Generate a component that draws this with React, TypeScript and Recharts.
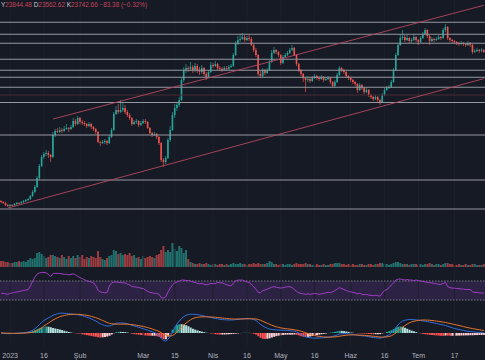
import React from "react";
import { ComposedChart, Bar, Line, XAxis, YAxis, ReferenceLine, ReferenceArea, Cell } from "recharts";

// Daily candles [open, high, low, close], 28 Dec 2022 .. 30 Jul 2023
const ohlc: number[][] = [
  [15950,16000,15850,15900],[15900,15950,15800,15850],[15850,15900,15700,15750],[15750,15800,15650,15700],[15700,15800,15650,15750],
  [15750,15800,15700,15740],[15740,15850,15700,15800],[15800,15900,15750,15850],[15850,15900,15800,15840],[15840,15950,15800,15900],
  [15900,16000,15850,15950],[15950,16050,15900,16000],[16000,16100,15950,16050],[16050,16250,16000,16200],[16200,16500,16150,16400],
  [16400,16750,16350,16650],[16650,17200,16600,17100],[17100,17800,17000,17700],[17700,18250,17650,18150],[18150,18400,18050,18300],
  [18300,18500,18200,18350],[18350,18450,18100,18250],[18250,18300,17900,18150],[18150,19400,18100,19250],[19250,19550,19150,19450],
  [19450,19600,19350,19400],[19400,19650,19350,19500],[19500,19600,19350,19450],[19450,19700,19400,19550],[19550,19800,19500,19600],
  [19600,19650,19400,19550],[19550,19750,19500,19650],[19650,20100,19600,19950],[19950,20050,19700,19800],[19800,20200,19750,20100],
  [20100,20150,19800,19900],[19900,20000,19750,19850],[19850,19950,19700,19800],[19800,19850,19600,19700],[19700,19900,19650,19800],
  [19800,19850,19550,19650],[19650,19700,19450,19550],[19550,19600,19300,19400],[19400,19450,18850,18900],[18900,18950,18700,18850],
  [18850,19000,18800,18900],[18900,19050,18800,18950],[18950,19000,18750,18850],[18850,19250,18800,19150],[19150,19600,19100,19500],
  [19500,20400,19450,20300],[20300,20700,20250,20500],[20500,20800,20300,20400],[20400,21000,20350,20500],[20500,20900,20400,20600],
  [20600,20750,20300,20400],[20400,20500,20150,20250],[20250,20350,20000,20100],[20100,20150,19700,19800],[19800,20000,19750,19900],
  [19900,20050,19800,19950],[19950,20000,19650,19750],[19750,19950,19700,19850],[19850,20050,19800,19950],[19950,20050,19800,19900],
  [19900,19950,19550,19600],[19600,19650,19300,19350],[19350,19400,19150,19250],[19250,19400,19200,19300],[19300,19350,19050,19150],
  [19150,19200,18750,18850],[18850,18900,17900,18000],[18000,18100,17650,17900],[17900,18200,17800,18100],[18100,19100,18050,19000],
  [19000,19700,18900,19500],[19500,20400,19450,20250],[20250,20800,20100,20600],[20600,20900,20450,20750],[20750,21150,20650,21000],
  [21000,22100,20950,22000],[22000,22650,21900,22500],[22500,22800,22350,22600],[22600,22700,22400,22550],[22550,22900,22450,22650],
  [22650,22750,22350,22500],[22500,22850,22400,22700],[22700,22800,22350,22500],[22500,22650,22250,22400],[22400,22750,22300,22600],
  [22600,22650,22200,22300],[22300,22400,22000,22150],[22150,22500,22100,22400],[22400,22900,22350,22750],[22750,22850,22600,22700],
  [22700,22950,22650,22800],[22800,22850,22500,22600],[22600,22700,22450,22550],[22550,22650,22400,22500],[22500,22700,22450,22600],
  [22600,22700,22450,22550],[22550,22750,22500,22650],[22650,22800,22600,22700],[22700,23350,22650,23250],[23250,23950,23200,23800],
  [23800,24200,23750,24000],[24000,24300,23900,24050],[24050,24350,24000,24150],[24150,24250,23900,24000],[24000,24200,23950,24100],
  [24100,24250,23950,24050],[24050,24150,23700,23750],[23750,23800,23400,23500],[23500,23600,23150,23250],[23250,23300,22200,22300],
  [22300,22450,22100,22200],[22200,22600,22150,22500],[22500,22550,22250,22350],[22350,22600,22300,22500],[22500,23000,22450,22900],
  [22900,23500,22850,23350],[23350,23650,23300,23500],[23500,23550,23300,23400],[23400,23450,23150,23250],[23250,23300,22750,22850],
  [22850,23250,22800,23150],[23150,23350,23100,23250],[23250,23450,23200,23350],[23350,23600,23300,23500],[23500,23750,23450,23600],
  [23600,23650,23200,23250],[23250,23300,22700,22800],[22800,22850,22400,22500],[22500,22550,22200,22300],[22300,22350,21900,22100],
  [22100,22150,21400,22000],[22000,22200,21900,22050],[22050,22150,21850,21950],[21950,22200,21900,22100],[22100,22300,22050,22200],
  [22200,22250,22000,22100],[22100,22200,21950,22050],[22050,22250,22000,22150],[22150,22200,21900,22000],[22000,22150,21950,22050],
  [22050,22200,22000,22100],[22100,22150,21800,21900],[21900,21950,21600,21700],[21700,22000,21650,21900],[21900,22350,21850,22250],
  [22250,22700,22200,22600],[22600,22650,22400,22500],[22500,22550,22300,22400],[22400,22450,22100,22200],[22200,22250,22000,22100],
  [22100,22150,21900,22000],[22000,22050,21800,21900],[21900,21950,21700,21800],[21800,21850,21350,21500],[21500,21850,21450,21750],
  [21750,21800,21500,21600],[21600,21650,21300,21400],[21400,21600,21350,21500],[21500,21550,21150,21250],[21250,21300,21050,21150],
  [21150,21200,20950,21050],[21050,21250,21000,21150],[21150,21200,20900,21000],[21000,21050,20750,20900],[20900,21350,20850,21250],
  [21250,21600,21200,21500],[21500,21700,21450,21600],[21600,21750,21550,21650],[21650,22000,21600,21900],[21900,22600,21850,22500],
  [22500,23350,22450,23250],[23250,23850,23200,23750],[23750,24300,23700,24100],[24100,24500,24000,24150],[24150,24250,23900,24000],
  [24000,24250,23950,24100],[24100,24150,23850,23950],[23950,24100,23850,24000],[24000,24300,23950,24150],[24150,24200,23900,24000],
  [24000,24050,23750,23900],[23900,24200,23850,24100],[24100,24400,24050,24300],[24300,24600,24250,24500],[24500,24550,24100,24200],
  [24200,24250,23750,23950],[23950,24150,23900,24050],[24050,24100,23900,24000],[24000,24150,23950,24050],[24050,24250,24000,24150],
  [24150,24200,24000,24100],[24100,24600,24050,24500],[24500,24800,24400,24650],[24650,24700,24000,24100],[24100,24150,23900,24000],
  [24000,24050,23850,23950],[23950,24000,23800,23900],[23900,23950,23750,23850],[23850,23900,23700,23800],[23800,23950,23750,23850],
  [23850,23900,23700,23800],[23800,23850,23650,23750],[23750,23950,23700,23850],[23850,23900,23650,23750],[23750,23800,23300,23400],
  [23400,23550,23350,23450],[23450,23600,23400,23500],[23500,23550,23350,23450],[23450,23600,23400,23500],[23500,23550,23350,23400],
];

const volume = [
  6,6,5,5,4,4,5,5,6,5,6,5,7,9,8,9,14,15,13,11,
  9,10,12,12,11,10,9,12,10,8,11,9,11,9,12,10,12,8,10,9,
  11,10,9,16,10,8,7,9,11,12,17,16,13,14,12,13,12,14,11,12,
  9,10,8,11,9,10,11,10,9,12,13,17,21,15,17,15,24,18,16,21,
  19,14,17,8,5,
  4,3,3,4,3,3,4,3,2,3, 3,2,3,3,2,3,2,3,4,3, 3,4,3,3,2,3,3,4,3,4,
  3,3,3,4,6,5,3,3,2,3, 3,2,3,3,2,3,4,3,3,3, 4,3,3,2,2,3,2,2,3,2,
  2,3,3,4,4,4,3,3,2,3, 2,3,2,2,3,3,2,2,3,3, 2,3,3,4,4,3,3,2,3,4,
  5,5,4,3,3,3,2,3,3,3, 2,3,2,3,3,4,3,2,3,3, 2,3,4,4,3,3,2,2,3,2,
  2,3,2,2,3,3,2,2,2,3,
];

const rsiValues = [
  44,44,43,42,44,45,46,47,48,49,50,51,52,60,70,78,85,87,88,88,
  87,84,79,86,86,86,86,85,84,84,83,84,85,83,80,77,75,73,70,69,
  68,66,60,50,47,46,45,46,60,66,68,68,67,67,66,66,63,62,58,58,
  57,56,55,54,51,48,46,45,44,44,42,35,34,37,47,55,62,66,68,70,
  72,72,71,71,70,68,67,65,64,65,63,62,63,65,64,65,67,66,66,64,
  62,61,60,66,70,72,72,72,70,68,67,62,58,52,46,45,50,51,53,55,
  57,58,57,56,55,56,57,58,58,56,52,48,45,44,43,42,43,42,43,44,
  43,42,43,44,45,46,46,47,50,53,56,54,52,50,48,47,46,45,43,44,
  42,41,42,40,40,39,40,39,38,45,50,52,56,62,66,72,74,74,73,72,
  73,72,72,71,72,71,70,69,68,67,66,66,65,64,63,63,65,67,58,56,
  55,55,54,54,53,53,52,52,52,47,46,46,45,45,44,
];

const macdValues = [
  0,-10,-20,-25,-25,-20,-15,-10,-5,0,10,20,40,70,110,170,250,340,430,500,
  560,610,650,710,740,770,790,795,790,780,770,760,750,740,730,715,690,660,630,600,
  560,520,480,420,370,330,300,280,280,310,350,390,400,400,395,390,370,340,310,280,
  260,230,200,170,140,110,80,50,20,-30,-90,-200,-290,-330,-250,-130,30,220,370,480,
  580,660,710,740,750,750,745,735,720,700,680,660,640,620,600,580,565,550,540,530,
  525,520,520,525,535,545,555,565,575,580,575,560,540,500,420,340,280,230,190,160,
  140,130,125,120,115,110,105,100,90,80,70,40,0,-60,-110,-150,-175,-190,-200,-205,
  -205,-200,-195,-190,-180,-170,-150,-130,-110,-80,-40,-30,-25,-30,-35,-45,-60,-75,-90,-100,
  -110,-120,-130,-150,-165,-180,-190,-200,-205,-180,-150,-110,-70,0,100,220,330,420,480,510,
  530,540,540,535,525,515,500,485,470,455,440,420,400,380,360,340,320,300,270,240,
  210,180,160,140,120,100,80,70,60,50,40,30,25,20,15,
];

const signalValues = [
  0,0,-5,-8,-10,-12,-12,-12,-10,-8,-5,0,5,15,30,60,100,150,210,280,
  340,400,460,520,570,610,650,680,700,720,735,745,750,750,748,745,735,720,705,690,
  665,640,610,580,540,500,460,420,390,370,360,355,355,355,355,355,350,345,335,325,
  310,295,280,260,240,215,190,160,130,100,60,10,-40,-80,-110,-120,-100,-40,40,130,
  230,320,400,470,530,580,610,630,640,645,648,648,645,640,635,630,620,610,600,590,
  580,570,565,560,560,560,560,562,565,568,570,570,568,560,540,510,470,430,390,350,
  310,280,250,225,205,190,175,165,155,145,130,115,95,70,40,10,-20,-50,-80,-100,
  -120,-135,-145,-155,-160,-165,-165,-160,-155,-145,-130,-115,-100,-90,-80,-75,-72,-75,-80,-85,
  -90,-95,-100,-110,-120,-130,-140,-150,-160,-165,-162,-155,-140,-110,-60,0,80,160,230,300,
  360,410,445,470,490,505,515,520,520,515,510,500,490,478,465,450,435,420,400,380,
  360,340,320,300,280,255,235,215,195,175,160,145,130,115,100,
];

const histValues = [
  0,-5,-10,-12,-10,-8,-5,0,5,8,15,20,30,55,80,110,150,190,230,250,
  260,250,230,200,180,160,140,115,90,65,40,20,5,-10,-20,-30,-50,-70,-85,-100,
  -120,-140,-150,-170,-180,-170,-160,-140,-110,-60,-10,30,45,45,40,35,20,-5,-25,-45,
  -55,-65,-80,-90,-100,-105,-110,-110,-110,-130,-150,-210,-250,-250,-140,-10,130,260,330,350,
  350,340,310,270,220,170,135,105,80,55,32,12,-5,-20,-35,-50,-55,-60,-60,-60,
  -55,-50,-45,-35,-25,-15,-5,5,10,12,5,-10,-30,-60,-130,-190,-230,-240,-230,-210,
  -180,-150,-125,-105,-90,-80,-70,-65,-65,-65,-60,-75,-95,-130,-150,-160,-155,-140,-120,-105,
  -85,-65,-50,-35,-20,-5,15,30,45,65,90,85,75,60,45,30,12,0,-10,-15,
  -20,-25,-30,-40,-45,-50,-50,-50,-45,-15,12,45,70,110,160,220,250,260,250,210,
  170,130,95,65,35,10,-15,-35,-50,-60,-70,-80,-90,-98,-105,-110,-115,-100,-105,-110,
  -110,-110,-105,-105,-100,-100,-95,-95,-90,-90,-85,-85,-80,-80,-75,
];

const levelPrices = [24885, 24285, 23835, 23035, 22485, 22135, 21635, 20875, 19250, 17000, 15550];
const weakLevelPrice = 21250;
const trendUpper = [[23, 20050], [214, 25735]];
const trendLower = [[3, 15600], [214, 22070]];
const tickLabels: [number, string][] = [
  [4, "2023"], [19, "16"], [35, "Şub"], [63, "Mar"], [77, "15"], [94, "Nis"], [109, "16"],
  [124, "May"], [139, "16"], [155, "Haz"], [170, "16"], [185, "Tem"], [201, "17"],
];
const header = { high: "23844.48", low: "23562.62", close: "23742.66", change: "−83.38 (−0.32%)" };

const data = ohlc.map((r, i) => ({
  i, o: r[0], h: r[1], l: r[2], c: r[3],
  v: volume[i], rsi: rsiValues[i], macd: macdValues[i], sig: signalValues[i], hist: histValues[i],
}));

const W = 485;
const BG = "#161a25";
const UP = "#26a69a";
const DOWN = "#ef5350";
const GRID = "#1d212c";
const FONT = "'Liberation Sans', Arial, sans-serif";
const M = { top: 0, right: 0, bottom: 0, left: 0 };
const tickMap = new Map(tickLabels);

function Candle(props: any) {
  const { x, y, width, height, payload } = props;
  if (!payload || width == null || y == null) return <g />;
  const top = Math.min(y, y + height);
  const bot = Math.max(y, y + height);
  const range = payload.h - payload.l || 1;
  const k = (bot - top) / range;
  const py = (p: number) => top + (payload.h - p) * k;
  const cx = x + width / 2;
  const col = payload.c >= payload.o ? UP : DOWN;
  const bt = py(Math.max(payload.o, payload.c));
  const bb = py(Math.min(payload.o, payload.c));
  return (
    <g>
      <line x1={cx} x2={cx} y1={top} y2={bot} stroke={col} strokeWidth={0.7} />
      <rect x={cx - 0.8} y={bt} width={1.6} height={Math.max(0.7, bb - bt)} fill={col} />
    </g>
  );
}

function DateTick(props: any) {
  const { x, y, payload } = props;
  const label = tickMap.get(payload?.value);
  if (!label) return <g />;
  return (
    <text x={x} y={y} dy={10} textAnchor="middle" fontSize={7} fill="#b2b5be" fontFamily={FONT}>
      {label}
    </text>
  );
}

function histColor(i: number) {
  const h = histValues[i];
  const p = i > 0 ? histValues[i - 1] : 0;
  if (h >= 0) return h > p ? "#26a69a" : "#b2dfdb";
  return h < p ? "#ff5252" : "#ffcdd2";
}

const gridLines = tickLabels.map(([idx]) => (
  <ReferenceLine key={"g" + idx} x={idx} stroke={GRID} strokeWidth={1} ifOverflow="visible" />
));

export default function App() {
  return (
    <div style={{ position: "absolute", left: 0, top: 0, width: W, height: 360, background: BG, overflow: "hidden" }}>
      {/* volume (bottom layer of main pane) */}
      <div style={{ position: "absolute", left: 0, top: 0 }}>
        <ComposedChart width={W} height={268} data={data} margin={M} barCategoryGap={0}>
          <XAxis dataKey="i" hide />
          <YAxis hide domain={[-1, 267]} allowDataOverflow />
          {gridLines}
          <Bar dataKey="v" isAnimationActive={false}>
            {data.map((d, i) => (
              <Cell key={i} fill={d.c >= d.o ? "rgba(38,166,154,0.62)" : "rgba(239,83,80,0.62)"} />
            ))}
          </Bar>
        </ComposedChart>
      </div>
      {/* price */}
      <div style={{ position: "absolute", left: 0, top: 0 }}>
        <ComposedChart width={W} height={268} data={data} margin={M} barCategoryGap={0}>
          <XAxis dataKey="i" hide />
          <YAxis hide domain={[12600, 26000]} allowDataOverflow />
          {levelPrices.map((p) => (
            <ReferenceLine key={p} y={p} stroke="#9598a1" strokeWidth={1.1} />
          ))}
          <ReferenceLine y={weakLevelPrice} stroke="#4a2a35" strokeWidth={1} />
          <ReferenceLine
            segment={[{ x: trendUpper[0][0], y: trendUpper[0][1] }, { x: trendUpper[1][0], y: trendUpper[1][1] }]}
            stroke="#b4475d" strokeWidth={0.9} ifOverflow="visible"
          />
          <ReferenceLine
            segment={[{ x: trendLower[0][0], y: trendLower[0][1] }, { x: trendLower[1][0], y: trendLower[1][1] }]}
            stroke="#b4475d" strokeWidth={0.9} ifOverflow="visible"
          />
          <Bar dataKey={(d: any) => [d.l, d.h]} shape={(p: any) => <Candle {...p} />} isAnimationActive={false} />
        </ComposedChart>
      </div>
      {/* header */}
      <div style={{ position: "absolute", left: 1, top: 1, fontFamily: FONT, fontSize: 6.4, whiteSpace: "nowrap", color: "#c2435b" }}>
        <span style={{ color: "#c8cad0" }}>Y</span>{header.high}{" "}
        <span style={{ color: "#c8cad0" }}>D</span>{header.low}{" "}
        <span style={{ color: "#c8cad0" }}>K</span>{header.close}{" "}{header.change}
      </div>
      {/* RSI */}
      <div style={{ position: "absolute", left: 0, top: 268 }}>
        <ComposedChart width={W} height={36} data={data} margin={M} barCategoryGap={0}>
          <XAxis dataKey="i" hide />
          <YAxis hide domain={[21.58, 97.37]} allowDataOverflow />
          {gridLines}
          <ReferenceArea y1={30} y2={70} fill="#7b3fb0" fillOpacity={0.22} stroke="none" />
          <ReferenceLine y={70} stroke="#787b86" strokeDasharray="1.5 1.5" />
          <ReferenceLine y={30} stroke="#787b86" strokeDasharray="1.5 1.5" />
          <Bar dataKey="rsi" fill="none" isAnimationActive={false} />
          <Line dataKey="rsi" stroke="#a03ec8" strokeWidth={1} dot={false} isAnimationActive={false} />
        </ComposedChart>
      </div>
      {/* MACD */}
      <div style={{ position: "absolute", left: 0, top: 304 }}>
        <ComposedChart width={W} height={56} data={data} margin={M} barCategoryGap="8%">
          <XAxis dataKey="i" height={14} interval={0} tickSize={0} axisLine={false} tickLine={false} tick={<DateTick />} />
          <YAxis hide domain={[-520, 1160]} allowDataOverflow />
          {gridLines}
          <Bar dataKey="hist" isAnimationActive={false}>
            {data.map((d, i) => (
              <Cell key={i} fill={histColor(i)} />
            ))}
          </Bar>
          <Line dataKey="macd" stroke="#2f6fe0" strokeWidth={1} dot={false} isAnimationActive={false} />
          <Line dataKey="sig" stroke="#e8762c" strokeWidth={1} dot={false} isAnimationActive={false} />
        </ComposedChart>
      </div>
    </div>
  );
}
